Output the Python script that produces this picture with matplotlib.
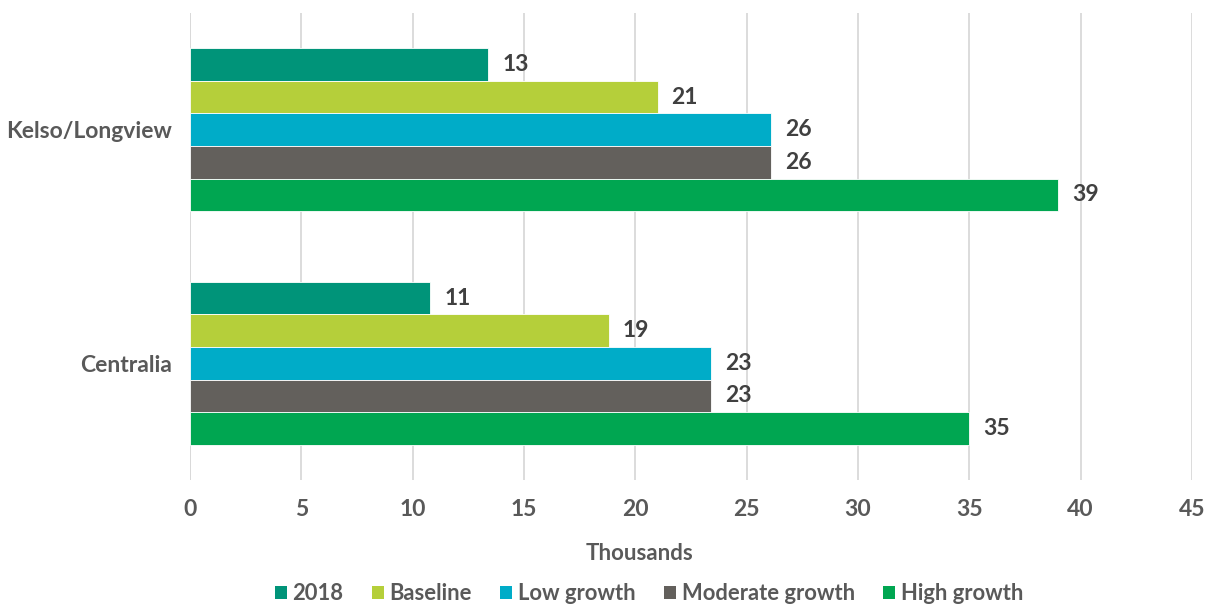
import matplotlib.pyplot as plt
import numpy as np
from matplotlib.patches import Patch

plt.rcParams['font.family'] = ['Lato', 'DejaVu Sans']
plt.rcParams['font.weight'] = 'bold'

regions = ['Centralia', 'Kelso/Longview']
series = ['2018', 'Baseline', 'Low growth', 'Moderate growth', 'High growth']
values = {
    '2018': [10.8, 13.4],
    'Baseline': [18.8, 21.0],
    'Low growth': [23.4, 26.1],
    'Moderate growth': [23.4, 26.1],
    'High growth': [35.0, 39.0],
}
colors = ['#009479', '#B5CF3A', '#00ACC8', '#63605C', '#00A651']

text_grey = '#595959'
label_grey = '#404040'

fig = plt.figure(figsize=(12.08, 6.06), dpi=100)
ax = fig.add_axes([190 / 1208, 1 - 480 / 606, 1002 / 1208, 467 / 606])

y = np.arange(len(regions))
h = 0.1395
for i, (name, col) in enumerate(zip(series, colors)):
    # first series sits at the top of each group
    pos = y + (2 - i) * h
    bars = ax.barh(pos, values[name], height=h, color=col, edgecolor='white',
                   linewidth=0.6, zorder=3)
    for b, v in zip(bars, values[name]):
        ax.annotate(f'{v:.0f}', (v, b.get_y() + b.get_height() / 2),
                    xytext=(14, 0), textcoords='offset pixels',
                    va='center', ha='left', fontsize=16.5, fontweight='bold',
                    color=label_grey)

ax.set_xlim(0, 45)
ax.set_ylim(-0.5, 1.5)
ax.set_xticks(np.arange(0, 46, 5))
ax.set_yticks(y)
ax.set_yticklabels(regions)
ax.grid(axis='x', color='#D9D9D9', linewidth=1.3, zorder=0)
ax.tick_params(axis='x', length=0, pad=14, labelsize=16.5, labelcolor=text_grey)
ax.tick_params(axis='y', length=0, pad=13, labelsize=16.5, labelcolor=text_grey)
for s in ax.spines.values():
    s.set_visible(False)
ax.axvline(0, color='#D9D9D9', linewidth=1.3, zorder=2)

fig.text(640 / 1208, 1 - 554 / 606, 'Thousands', ha='center', va='center',
         fontsize=16, fontweight='bold', color=text_grey)

handles = [Patch(facecolor=c, label=s) for s, c in zip(series, colors)]
leg = fig.legend(handles=handles, loc='center', ncol=5,
                 bbox_to_anchor=(649 / 1208, 1 - 594 / 606), frameon=False,
                 fontsize=15.8, handlelength=0.55, handleheight=0.55,
                 handletextpad=0.25, columnspacing=1.3)
for t in leg.get_texts():
    t.set_color(text_grey)

fig.savefig('out.png', dpi=100)
